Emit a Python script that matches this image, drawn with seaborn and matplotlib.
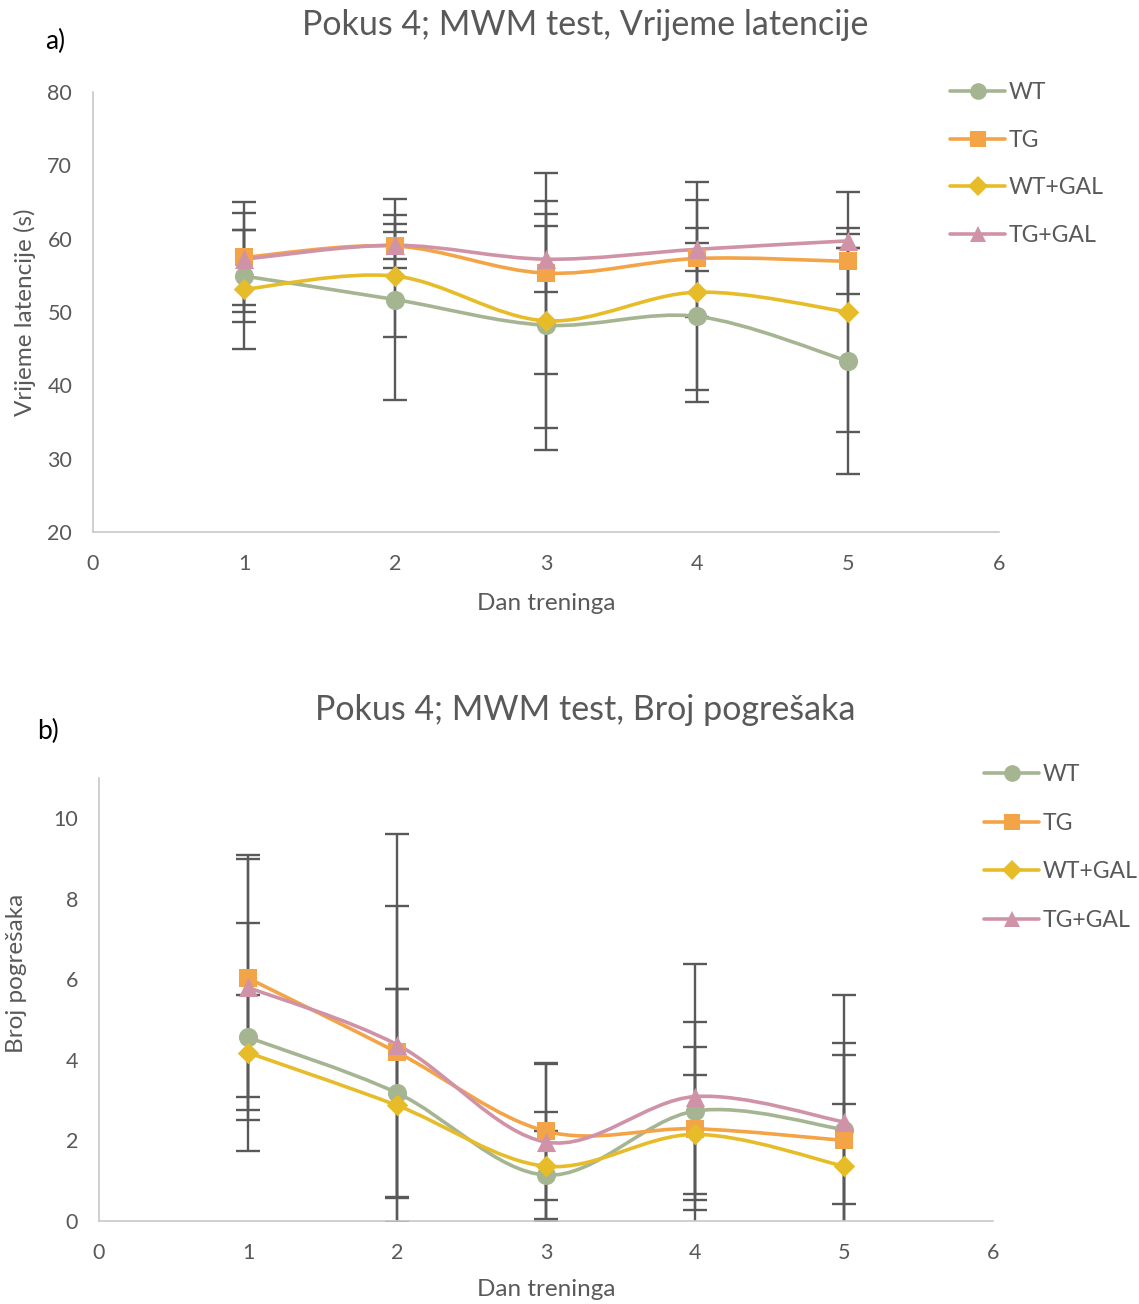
import numpy as np
import pandas as pd
import matplotlib
matplotlib.use("Agg")
import matplotlib.pyplot as plt
import seaborn as sns
from matplotlib.path import Path
from matplotlib.patches import PathPatch
from matplotlib.lines import Line2D

# ---------------- data ----------------
days = [1, 2, 3, 4, 5]
groups = ["WT", "TG", "WT+GAL", "TG+GAL"]

lat_wt = [54.9, 51.7, 48.2, 49.4, 43.3]
lat_tg = [57.45, 59.0, 55.3, 57.3, 56.9]
lat_wtgal = [53.1, 54.9, 48.8, 52.7, 50.0]
lat_tggal = [57.2, 59.1, 57.2, 58.55, 59.7]
lat_wt_err = [6.3, 13.65, 17.0, 10.0, 15.4]
lat_tg_err = [7.5, 3.0, 13.7, 8.0, 4.5]
lat_wtgal_err = [8.1, 8.35, 14.6, 15.0, 16.4]
lat_tggal_err = [6.25, 1.85, 4.5, 2.9, 1.0]

err_wt = [4.56, 3.18, 1.14, 2.73, 2.27]
err_tg = [6.03, 4.19, 2.23, 2.29, 2.0]
err_wtgal = [4.18, 2.87, 1.36, 2.15, 1.36]
err_tggal = [5.80, 4.38, 1.96, 3.09, 2.46]
err_wt_sd = [2.83, 2.58, 1.10, 2.22, 1.84]
err_tg_sd = [2.96, 3.63, 1.70, 2.02, 2.41]
err_wtgal_sd = [1.42, 2.89, 1.34, 1.47, 1.54]
err_tggal_sd = [3.28, 5.22, 1.95, 3.30, 3.16]

lat_yticks = [20, 30, 40, 50, 60, 70, 80]
err_yticks = [0, 2, 4, 6, 8, 10]
xticks = [0, 1, 2, 3, 4, 5, 6]

# ---------------- style ----------------
colors = {"WT": "#A5B592", "TG": "#F3A447", "WT+GAL": "#E7BC29", "TG+GAL": "#D092A7"}
markers = {"WT": "o", "TG": "s", "WT+GAL": "D", "TG+GAL": "^"}
msizes = {"WT": 190, "TG": 180, "WT+GAL": 120, "TG+GAL": 190}
GRAY = "#595959"
FONT = ["Lato", "DejaVu Sans"]

sns.set_theme(style="white")
plt.rcParams["font.family"] = FONT


def make_df(means, errs):
    rows = []
    for g, m, e in zip(groups, means, errs):
        for d, mv, ev in zip(days, m, e):
            rows.append({"day": d, "group": g, "value": mv, "err": ev})
    return pd.DataFrame(rows)


def smooth_path(xs, ys):
    P = np.column_stack([xs, ys]).astype(float)
    n = len(P)
    verts = [P[0]]
    codes = [Path.MOVETO]
    for i in range(n - 1):
        p_prev = P[i - 1] if i > 0 else P[i]
        p_next = P[i + 2] if i + 2 < n else P[i + 1]
        c1 = P[i] + (P[i + 1] - p_prev) / 6.0
        c2 = P[i + 1] - (p_next - P[i]) / 6.0
        verts += [c1, c2, P[i + 1]]
        codes += [Path.CURVE4] * 3
    return Path(verts, codes)


def draw_panel(ax, df, ylim, yticks):
    for g in groups:
        sub = df[df.group == g]
        ax.errorbar(sub.day, sub.value, yerr=sub.err, fmt="none", ecolor=GRAY,
                    elinewidth=1.7, capsize=8.5, capthick=1.7, zorder=2)
    for g in groups:
        sub = df[df.group == g]
        patch = PathPatch(smooth_path(sub.day.values, sub.value.values),
                          facecolor="none", edgecolor=colors[g], lw=2.6,
                          zorder=3, capstyle="round")
        ax.add_patch(patch)
    for g in groups:
        sub = df[df.group == g]
        sns.scatterplot(data=sub, x="day", y="value", ax=ax, color=colors[g],
                        marker=markers[g], s=msizes[g], linewidth=0,
                        zorder=4, legend=False)
    ax.set_xlim(0, 6)
    ax.set_ylim(*ylim)
    ax.set_xticks(xticks)
    ax.set_yticks(yticks)
    ax.set_xlabel("")
    ax.set_ylabel("")
    for s in ["top", "right"]:
        ax.spines[s].set_visible(False)
    for s in ["left", "bottom"]:
        ax.spines[s].set_color("#C8C8C8")
        ax.spines[s].set_linewidth(1.2)
    ax.tick_params(axis="both", length=0, labelsize=15.5, colors=GRAY)
    ax.tick_params(axis="y", pad=15)
    ax.tick_params(axis="x", pad=16)


def add_legend(ax, x_px, y_px, spacing):
    handles = [Line2D([0], [0], color=colors[g], lw=2.6, marker=markers[g],
                      markersize=(12 if g != "WT+GAL" else 10), markeredgewidth=0)
               for g in groups]
    leg = ax.legend(handles, groups, loc="upper left",
                    bbox_to_anchor=(x_px / W, 1 - y_px / H),
                    bbox_transform=fig.transFigure, frameon=False,
                    fontsize=16.6, handlelength=2.4, handletextpad=0.15,
                    labelspacing=spacing, borderpad=0, borderaxespad=0)
    for t in leg.get_texts():
        t.set_color(GRAY)


W, H = 1139, 1304
fig = plt.figure(figsize=(W / 100, H / 100), dpi=100)

# panel a
ax1 = fig.add_axes([93 / W, 1 - 532 / H, (999 - 93) / W, (532 - 92) / H])
df1 = make_df([lat_wt, lat_tg, lat_wtgal, lat_tggal],
              [lat_wt_err, lat_tg_err, lat_wtgal_err, lat_tggal_err])
draw_panel(ax1, df1, (20, 80), lat_yticks)
add_legend(ax1, 950, 82, 1.16)

# panel b
ax2 = fig.add_axes([99 / W, 1 - 1221 / H, (993 - 99) / W, (1221 - 778) / H])
df2 = make_df([err_wt, err_tg, err_wtgal, err_tggal],
              [err_wt_sd, err_tg_sd, err_wtgal_sd, err_tggal_sd])
draw_panel(ax2, df2, (0, 11), err_yticks)
add_legend(ax2, 984, 764, 1.2)

# texts
def ftext(x, y, s, **kw):
    fig.text(x / W, 1 - y / H, s, **kw)

ftext(585, 25, "Pokus 4; MWM test, Vrijeme latencije", ha="center", va="center",
      fontsize=24.5, color=GRAY)
ftext(585, 710, "Pokus 4; MWM test, Broj pogrešaka", ha="center", va="center",
      fontsize=24.5, color=GRAY)
ftext(55, 41, "a)", ha="center", va="center", fontsize=19, color="black")
ftext(48, 731, "b)", ha="center", va="center", fontsize=19, color="black")
ftext(546, 603, "Dan treninga", ha="center", va="center", fontsize=17.5, color=GRAY)
ftext(546, 1290, "Dan treninga", ha="center", va="center", fontsize=17.5, color=GRAY)
ftext(25, 312, "Vrijeme latencije (s)", ha="center", va="center", rotation=90,
      fontsize=17.5, color=GRAY)
ftext(17, 973, "Broj pogrešaka", ha="center", va="center", rotation=90,
      fontsize=17.5, color=GRAY)

fig.savefig("out.png", dpi=100)
